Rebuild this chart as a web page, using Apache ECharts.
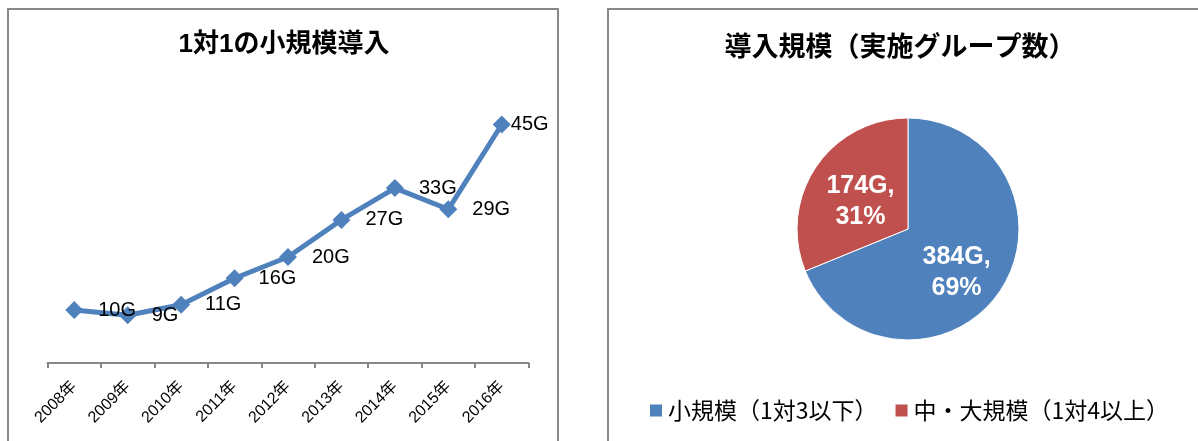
<!DOCTYPE html>
<html>
<head>
<meta charset="utf-8">
<script src="https://cdn.jsdelivr.net/npm/echarts@6/dist/echarts.min.js"></script>
<style>
  body { margin: 0; background: #fff; }
  #main { width: 1198px; height: 441px; }
</style>
</head>
<body>
<div id="main"></div>
<script>
// 左：1対1の小規模導入（グループ数の推移）
const years = ["2008年", "2009年", "2010年", "2011年", "2012年", "2013年", "2014年", "2015年", "2016年"];
const groups = [10, 9, 11, 16, 20, 27, 33, 29, 45];

// 右：導入規模（実施グループ数）
const scaleNames = ["小規模（1対3以下）", "中・大規模（1対4以上）"];
const scaleValues = [384, 174];

const titleLeft = "1対1の小規模導入";
const titleRight = "導入規模（実施グループ数）";

const blue = "#4f81bd";
const red = "#c0504d";
const gray = "#878787";
const latin = "'Liberation Sans', 'Noto Sans CJK JP', sans-serif";

const chart = echarts.init(document.getElementById("main"));

// 最後の点（45G）はラベルを点に寄せる
const lineData = groups.map((v, i) =>
  i === groups.length - 1 ? { value: v, label: { distance: 0 } } : v
);

// 円グラフのラベル位置の微調整
const pieLabelOffsets = [[0, 11], [1, 5]];

const option = {
  animation: false,
  color: [blue, red],
  title: [
    {
      text: titleLeft,
      left: 284,
      top: 32,
      padding: 0,
      textAlign: "center",
      textStyle: { fontSize: 26, fontWeight: "bold", color: "#000", fontFamily: latin },
    },
    {
      text: titleRight,
      left: 900,
      top: 32,
      padding: 0,
      textAlign: "center",
      textStyle: { fontSize: 27, fontWeight: "bold", color: "#000", fontFamily: "'Noto Sans CJK JP', sans-serif" },
    },
  ],
  legend: {
    left: 648,
    top: 399,
    padding: 0,
    itemWidth: 14,
    itemHeight: 14,
    itemGap: 16,
    icon: "rect",
    data: scaleNames,
    textStyle: { fontSize: 23, color: "#000", fontFamily: "'Noto Sans CJK JP', sans-serif" },
  },
  grid: {
    left: 47.5,
    right: 669.5,
    top: 98,
    bottom: 78,
    containLabel: false,
  },
  xAxis: {
    type: "category",
    data: years,
    boundaryGap: true,
    axisLine: { lineStyle: { color: gray, width: 2 } },
    axisTick: { show: true, length: 5, lineStyle: { color: gray, width: 2 } },
    axisLabel: {
      rotate: 45,
      margin: 21,
      interval: 0,
      color: "#000",
      fontSize: 16,
      fontFamily: latin,
    },
  },
  yAxis: {
    type: "value",
    min: 0,
    max: 50,
    show: false,
    splitLine: { show: false },
  },
  series: [
    {
      type: "line",
      data: lineData,
      symbol: "diamond",
      symbolSize: 18,
      lineStyle: { color: blue, width: 5 },
      itemStyle: { color: blue },
      label: {
        show: true,
        position: "right",
        distance: 15,
        formatter: "{c}G",
        color: "#000",
        fontSize: 20,
        fontFamily: latin,
      },
    },
    {
      type: "pie",
      center: [908, 229],
      radius: 111,
      startAngle: 90,
      clockwise: true,
      percentPrecision: 0,
      itemStyle: { borderColor: "#fff", borderWidth: 1 },
      label: {
        show: true,
        position: "inside",
        formatter: "{c}G,\n{d}%",
        color: "#fff",
        fontSize: 25,
        fontWeight: "bold",
        lineHeight: 31,
        fontFamily: latin,
      },
      labelLine: { show: false },
      data: scaleNames.map((name, i) => ({
        name: name,
        value: scaleValues[i],
        label: { offset: pieLabelOffsets[i] },
      })),
    },
  ],
  // 各グラフの枠線
  graphic: [
    {
      type: "rect",
      shape: { x: 8, y: 9, width: 550, height: 500 },
      style: { fill: "none", stroke: gray, lineWidth: 2 },
      silent: true,
    },
    {
      type: "rect",
      shape: { x: 608, y: 9, width: 700, height: 500 },
      style: { fill: "none", stroke: gray, lineWidth: 2 },
      silent: true,
    },
  ],
};

chart.setOption(option);
</script>
</body>
</html>
